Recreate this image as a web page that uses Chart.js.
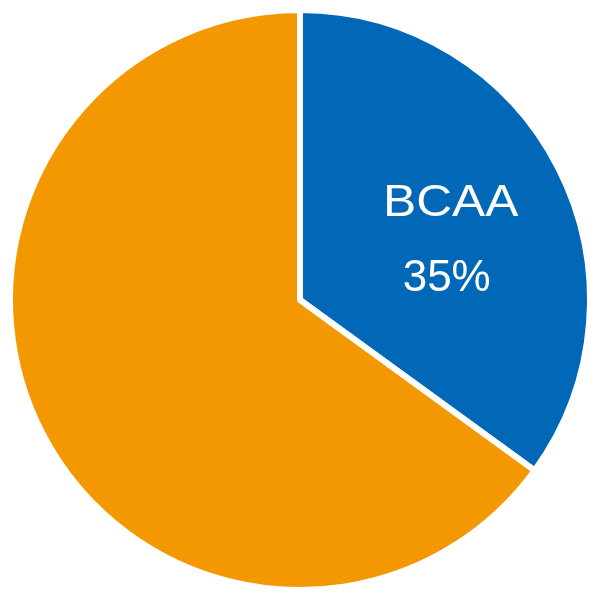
<!DOCTYPE html>
<html>
<head>
<meta charset="utf-8">
<script src="https://cdn.jsdelivr.net/npm/chart.js@4"></script>
<style>
  html, body { margin: 0; padding: 0; background: #ffffff; }
  #wrap { width: 600px; height: 600px; }
</style>
</head>
<body>
<div id="wrap"><canvas id="pie"></canvas></div>
<script>
const labels = ['BCAA', 'Other'];
const values = [35, 65];
const colors = ['#0068b7', '#f39800'];

// white label drawn inside the first slice only
const sliceLabel = {
  id: 'sliceLabel',
  afterDatasetsDraw: (chart) => {
    const { ctx } = chart;
    const arc = chart.getDatasetMeta(0).data[0];
    const mid = (arc.startAngle + arc.endAngle) / 2;
    const r = arc.outerRadius * 0.56;
    const x = arc.x + Math.cos(mid) * r + 4;
    const y = arc.y + Math.sin(mid) * r + 15;
    ctx.save();
    ctx.fillStyle = '#ffffff';
    ctx.font = '44px "Liberation Sans", Arial, sans-serif';
    ctx.textAlign = 'center';
    ctx.textBaseline = 'middle';
    ctx.save();
    ctx.translate(x + 2, y - 37);
    ctx.scale(1.13, 1);
    ctx.fillText(labels[0], 0, 0);
    ctx.restore();
    ctx.fillText(values[0] + '%', x - 2, y + 38);
    ctx.restore();
  }
};

new Chart(document.getElementById('pie'), {
  type: 'pie',
  data: {
    labels: labels,
    datasets: [{
      data: values,
      backgroundColor: colors,
      borderColor: '#ffffff',
      borderWidth: 6
    }]
  },
  options: {
    responsive: true,
    maintainAspectRatio: false,
    animation: false,
    layout: { padding: 7 },
    plugins: {
      legend: { display: false },
      tooltip: { enabled: false }
    }
  },
  plugins: [sliceLabel]
});
</script>
</body>
</html>
